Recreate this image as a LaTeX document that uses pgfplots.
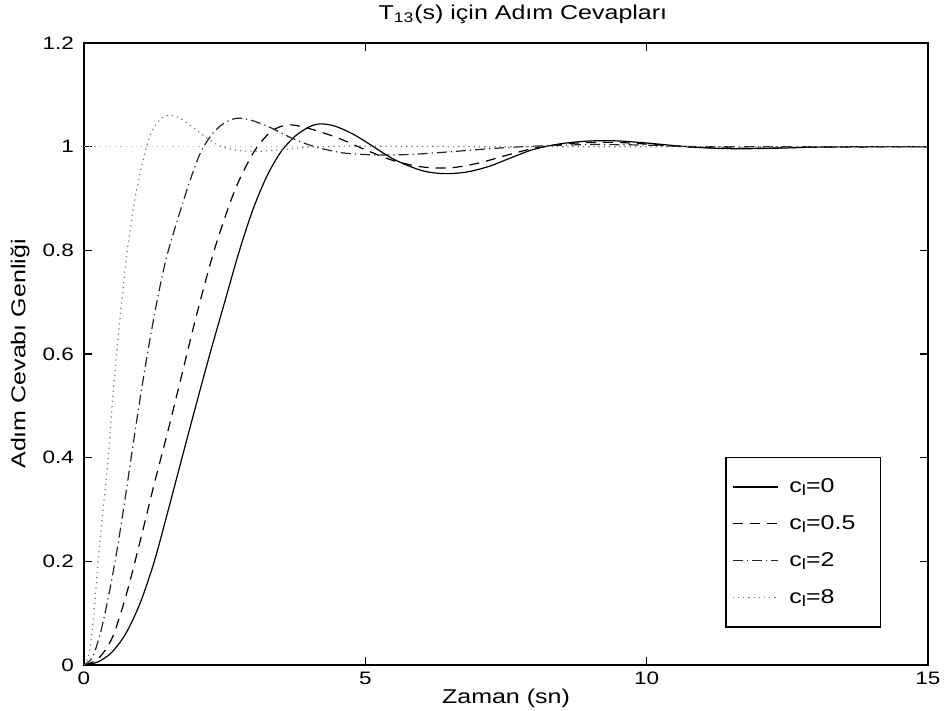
\documentclass[border=0pt]{standalone}
\usepackage{fontspec}
\setmainfont{Liberation Sans}[FakeStretch=1.25]
\usepackage{pgfplots}
\pgfplotsset{compat=1.18}
\newcommand{\cl}[1]{\makebox[44pt][l]{\hspace{3.5pt}c\raisebox{-0.3ex}{\fontsize{7.5}{8}\selectfont l}=#1}}
\begin{document}
\begin{tikzpicture}
\begin{axis}[
 scale only axis, width=422pt, height=311pt,
 at={(0,0)}, anchor=south west,
 xmin=0, xmax=15, ymin=0, ymax=1.2,
 xtick={0,5,10,15}, xticklabels={0,5,10,15},
 ytick={0,0.2,0.4,0.6,0.8,1,1.2},
 yticklabels={0,0.2,0.4,0.6,0.8,1,1.2},
 tick align=inside, major tick length=4pt,
 axis line style={line width=0.8pt},
 every tick/.style={black, line width=0.8pt},
 tick label style={font=\fontsize{9}{10}\selectfont},
 yticklabel style={xshift=-1.5pt},
 /pgf/number format/assume math mode=true,
 title={T\textsubscript{13}(s) için Adım Cevapları},
 title style={at={(axis description cs:0.52,1.027)}, anchor=center, yshift=0pt, font=\fontsize{10}{12}\selectfont},
 xlabel={Zaman (sn)},
 xlabel style={at={(axis description cs:0.5,-0.053)}, anchor=center, font=\fontsize{10}{12}\selectfont},
 ylabel={Adım Cevabı Genliği},
 ylabel style={at={(axis description cs:-0.0758,0.5)}, anchor=center, font=\fontsize{10}{12}\selectfont},
 legend style={at={(axis cs:11.4,0.402)}, anchor=north west, draw=black, line width=0.8pt, fill=white,
   font=\fontsize{10}{11}\selectfont, row sep=6pt, inner xsep=3pt, inner ysep=8.5pt},
 legend cell align=left,
 legend image code/.code={\draw[line width=0.6pt,#1] (0pt,0pt) -- (22.5pt,0pt);},
]
\addplot[gray!55, line width=0.6pt, dash pattern=on 0.6pt off 2pt, forget plot] coordinates {(0,1)(15,1)};

\addplot[black, line width=0.6pt, smooth] coordinates {
(0,0)(0.25,0.006)(0.5,0.025)(0.75,0.062)(1.0,0.12)(1.25,0.2)(1.5,0.3)(1.75,0.403)(2.0,0.505)(2.25,0.605)(2.5,0.7)(2.75,0.795)(3.0,0.878)(3.25,0.943)(3.5,0.99)(3.75,1.02)(4.0,1.038)(4.2,1.044)(4.45,1.04)(4.75,1.026)(5.0,1.01)(5.5,0.976)(6.0,0.954)(6.4,0.948)(6.8,0.951)(7.2,0.962)(7.6,0.979)(8.0,0.995)(8.5,1.006)(9.0,1.011)(9.5,1.011)(10.0,1.007)(10.5,1.002)(11.0,0.998)(11.6,0.996)(12.3,0.997)(13.0,0.999)(14,1.0)(15,1.0)};
\addlegendentry{\cl{0}}

\addplot[black, line width=0.6pt, smooth, dash pattern=on 5pt off 3.5pt] coordinates {
(0,0)(0.25,0.012)(0.5,0.052)(0.75,0.135)(1.0,0.24)(1.25,0.35)(1.5,0.455)(1.75,0.565)(2.0,0.675)(2.3,0.795)(2.6,0.893)(2.8,0.945)(3.05,0.995)(3.3,1.027)(3.5,1.039)(3.7,1.042)(4.0,1.035)(4.3,1.025)(4.6,1.013)(5.0,0.994)(5.5,0.973)(6.0,0.961)(6.5,0.959)(7.0,0.968)(7.5,0.983)(8.0,0.997)(8.5,1.005)(9.0,1.008)(9.5,1.008)(10.0,1.005)(10.5,1.001)(11,0.998)(12,0.997)(13,0.999)(15,1.0)};
\addlegendentry{\cl{0.5}}

\addplot[black!85, line width=0.6pt, smooth, dash pattern=on 5pt off 2pt on 0.6pt off 2pt] coordinates {
(0,0)(0.15,0.015)(0.3,0.065)(0.45,0.14)(0.6,0.23)(0.75,0.335)(0.9,0.445)(1.05,0.55)(1.2,0.645)(1.35,0.73)(1.5,0.8)(1.78,0.9)(1.95,0.955)(2.1,0.995)(2.3,1.027)(2.5,1.046)(2.73,1.055)(3.0,1.05)(3.35,1.035)(3.7,1.016)(4.1,1.0)(4.6,0.988)(5.2,0.984)(5.8,0.985)(6.5,0.99)(7.2,0.996)(8.0,1.001)(9.0,1.004)(10,1.003)(11,1.0)(15,1.0)};
\addlegendentry{\cl{2}}

\addplot[black!55, line width=0.6pt, smooth, dash pattern=on 0.6pt off 2pt] coordinates {
(0,0)(0.05,0.008)(0.1,0.03)(0.15,0.07)(0.2,0.13)(0.25,0.2)(0.34,0.3)(0.43,0.4)(0.5,0.5)(0.58,0.6)(0.67,0.7)(0.77,0.8)(0.9,0.895)(1.0,0.95)(1.1,0.995)(1.2,1.028)(1.35,1.052)(1.51,1.061)(1.7,1.055)(1.9,1.04)(2.07,1.026)(2.3,1.008)(2.5,0.998)(2.8,0.992)(3.1,0.991)(3.5,0.994)(4.0,0.999)(4.6,1.001)(5.5,1.001)(7,1.0)(15,1.0)};
\addlegendentry{\cl{8}}
\end{axis}
\pgfresetboundingbox
\useasboundingbox (-42pt,-23pt) rectangle (430pt,332.5pt);
\end{tikzpicture}
\end{document}
